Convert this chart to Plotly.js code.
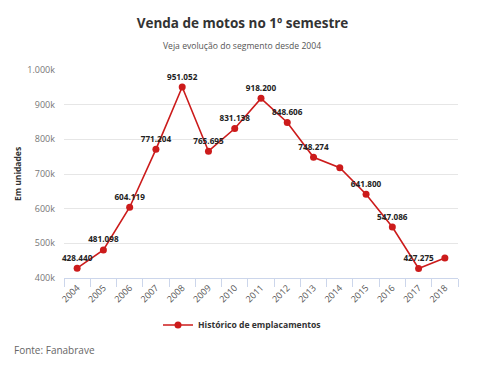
<!DOCTYPE html>
<html><head><meta charset="utf-8">
<script src="https://cdn.plot.ly/plotly-3.0.1.min.js"></script>
<style>body{margin:0;background:#fff}#c{width:485px;height:380px}</style>
</head><body><div id="c"></div>
<script>
const years = ["2004","2005","2006","2007","2008","2009","2010","2011","2012","2013","2014","2015","2016","2017","2018"];
const vendas = [428440,481098,604119,771204,951052,765695,831138,918200,848606,748274,718000,641800,547086,427275,458000];
const semRotulo = ["2014","2018"];
const yTicks = [400000,500000,600000,700000,800000,900000,1000000];
const yTickText = ["400k","500k","600k","700k","800k","900k","1.000k"];

function fmt(v){return String(Math.round(v)).replace(/\B(?=(\d{3})+(?!\d))/g,".");}
const rotulos = years.map((y,i)=> semRotulo.includes(y) ? "" : fmt(vendas[i]));

const cx = (242-64)/394;
const trace = {
  x: years, y: vendas, type: "scatter", mode: "lines+markers+text",
  name: "Histórico de emplacamentos",
  text: rotulos, textposition: "top center", cliponaxis: false,
  textfont: {family: "Open Sans, sans-serif", size: 8.2, color: "#222", weight: 700},
  line: {color: "#cc1b1b", width: 1.6},
  marker: {color: "#cc1b1b", size: 7},
  hoverinfo: "x+y"
};
const layout = {
  width: 485, height: 380,
  margin: {l: 64, r: 27, t: 70, b: 102},
  paper_bgcolor: "#fff", plot_bgcolor: "#fff",
  font: {family: "Open Sans, sans-serif", color: "#333"},
  title: {text: "<b>Venda de motos no 1º semestre</b>", x: 0.5, xanchor: "center", y: 1-23/380, yanchor: "middle",
          font: {size: 13.5, color: "#333", family: "Open Sans, sans-serif"}},
  annotations: [
    {text: "Veja evolução do segmento desde 2004", xref: "paper", yref: "paper", x: cx, y: (380-46-102)/208, xanchor: "center", yanchor: "middle",
     showarrow: false, font: {size: 8.6, color: "#555"}},
    {text: "Fonte: Fanabrave", xref: "paper", yref: "paper", x: -64/394 + 12/394, y: -(350-278)/208, xanchor: "left", yanchor: "middle",
     showarrow: false, font: {size: 10, color: "#666"}}
  ],
  xaxis: {
    type: "category", range: [-0.5, 14.5], tickangle: -45,
    tickfont: {size: 9, color: "#555"},
    ticks: "outside", tickson: "boundaries", ticklen: 8, tickcolor: "#ccd6eb", tickwidth: 1,
    showline: true, linecolor: "#ccd6eb", linewidth: 1, showgrid: false, zeroline: false
  },
  yaxis: {
    range: [400000, 1000000], tickvals: yTicks, ticktext: yTickText,
    tickfont: {size: 9, color: "#777"}, ticklabelstandoff: 8,
    gridcolor: "#e6e6e6", gridwidth: 1, zeroline: false, showline: false,
    title: {text: "<b>Em unidades</b>", font: {size: 8.5, color: "#333"}, standoff: 4}
  },
  showlegend: true,
  legend: {orientation: "h", x: cx, xanchor: "center", y: -(325-278)/208, yanchor: "middle",
           font: {size: 8.6, color: "#333", weight: 700}}
};
Plotly.newPlot("c", [trace], layout, {displayModeBar: false, staticPlot: true});
</script></body></html>
